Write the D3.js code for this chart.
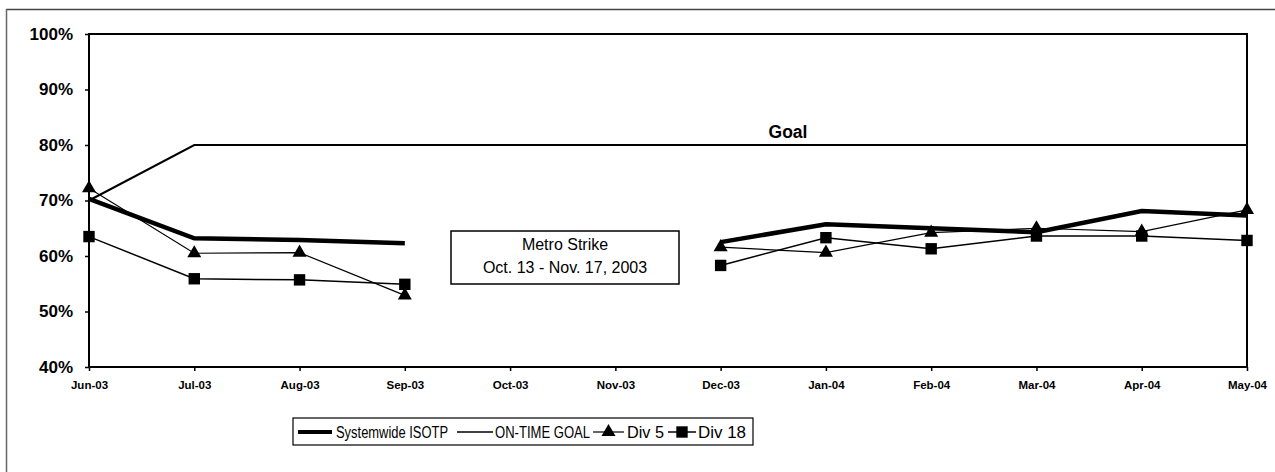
<!DOCTYPE html>
<html>
<head>
<meta charset="utf-8">
<script src="https://cdn.jsdelivr.net/npm/d3@7"></script>
<style>
  body { margin: 0; background: #fff; }
  svg { display: block; font-family: Arial, "Liberation Sans", sans-serif; }
</style>
</head>
<body>
<div id="mainDiv"></div>
<script>
'use strict';

// categories (months)
var months = ['Jun-03', 'Jul-03', 'Aug-03', 'Sep-03', 'Oct-03', 'Nov-03',
              'Dec-03', 'Jan-04', 'Feb-04', 'Mar-04', 'Apr-04', 'May-04'];

// series values (% on time); null = strike months
var systemwide = [70.3, 63.2, 62.9, 62.3, null, null, 62.5, 65.7, 65.0, 64.3, 68.1, 67.3];
var onTimeGoal = [70, 80, 80, 80, 80, 80, 80, 80, 80, 80, 80, 80];
var div5       = [72.2, 60.5, 60.6, 52.9, null, null, 61.6, 60.6, 64.2, 65.0, 64.4, 68.3];
var div18      = [63.5, 55.9, 55.7, 54.9, null, null, 58.3, 63.3, 61.3, 63.6, 63.6, 62.8];

// y tick labels
var yTicks = [40, 50, 60, 70, 80, 90, 100];

var legendKeys = ['Systemwide ISOTP', 'ON-TIME GOAL', 'Div 5', 'Div 18'];

var chart = {};
chart.W = 1275;
chart.H = 472;
chart.plot = {left: 89, top: 34, right: 1247, bottom: 367};

chart.run = function()
{
    var svg = d3.select('#mainDiv').append('svg')
        .attr('width', chart.W)
        .attr('height', chart.H);

    var p = chart.plot;

    // outer frame remnants (scanned page)
    svg.append('line')
        .attr('x1', 6).attr('x2', chart.W).attr('y1', 9.5).attr('y2', 9.5)
        .attr('stroke', '#444').attr('stroke-width', 1.5);
    svg.append('line')
        .attr('x1', 6.5).attr('x2', 6.5).attr('y1', 9).attr('y2', chart.H)
        .attr('stroke', '#666').attr('stroke-width', 1.5);

    var x = d3.scalePoint().domain(months).range([p.left, p.right]);
    var y = d3.scaleLinear().domain([40, 100]).range([p.bottom, p.top]);

    // plot area border
    svg.append('rect')
        .attr('x', p.left).attr('y', p.top)
        .attr('width', p.right - p.left).attr('height', p.bottom - p.top)
        .attr('fill', 'none').attr('stroke', '#000').attr('stroke-width', 2);

    // y axis
    var yAxis = svg.append('g')
        .attr('transform', 'translate(' + p.left + ',0)')
        .call(d3.axisLeft(y).tickValues(yTicks).tickSize(4).tickPadding(12)
            .tickFormat(function(d){ return d + '%'; }));
    yAxis.select('.domain').remove();
    yAxis.selectAll('line').attr('stroke', '#000').attr('stroke-width', 1.5);
    yAxis.selectAll('text')
        .style('font-size', '17px').style('font-weight', 'bold')
        .attr('fill', '#000');

    // x axis
    var xAxis = svg.append('g')
        .attr('transform', 'translate(0,' + p.bottom + ')')
        .call(d3.axisBottom(x).tickSize(4).tickPadding(10));
    xAxis.select('.domain').remove();
    xAxis.selectAll('line').attr('stroke', '#000').attr('stroke-width', 1.5);
    xAxis.selectAll('text')
        .style('font-size', '11.5px').style('font-weight', 'bold')
        .attr('fill', '#000');

    function rows(vals)
    {
        return months.map(function(m, i){ return {m: m, v: vals[i]}; });
    }

    var line = d3.line()
        .defined(function(d){ return d.v !== null; })
        .x(function(d){ return x(d.m); })
        .y(function(d){ return y(d.v); });

    // goal line
    svg.append('path').datum(rows(onTimeGoal))
        .attr('d', line).attr('fill', 'none')
        .attr('stroke', '#000').attr('stroke-width', 2);

    // div 18
    svg.append('path').datum(rows(div18))
        .attr('d', line).attr('fill', 'none')
        .attr('stroke', '#000').attr('stroke-width', 1.5);

    // div 5
    svg.append('path').datum(rows(div5))
        .attr('d', line).attr('fill', 'none')
        .attr('stroke', '#000').attr('stroke-width', 1.2);

    // systemwide (thick)
    svg.append('path').datum(rows(systemwide))
        .attr('d', line).attr('fill', 'none')
        .attr('stroke', '#000').attr('stroke-width', 4.5);

    var sq = d3.symbol().type(d3.symbolSquare).size(130);
    var tri = d3.symbol().type(d3.symbolTriangle).size(85);

    svg.selectAll('.m18')
        .data(rows(div18).filter(function(d){ return d.v !== null; }))
        .enter().append('path')
        .attr('class', 'm18')
        .attr('d', sq)
        .attr('transform', function(d){ return 'translate(' + x(d.m) + ',' + y(d.v) + ')'; })
        .attr('fill', '#000');

    svg.selectAll('.m5')
        .data(rows(div5).filter(function(d){ return d.v !== null; }))
        .enter().append('path')
        .attr('class', 'm5')
        .attr('d', tri)
        .attr('transform', function(d){ return 'translate(' + x(d.m) + ',' + y(d.v) + ')'; })
        .attr('fill', '#000');

    // goal label
    svg.append('text')
        .attr('x', 788).attr('y', 138)
        .attr('text-anchor', 'middle')
        .style('font-size', '17.5px').style('font-weight', 'bold')
        .text('Goal');

    // strike annotation
    var ann = svg.append('g');
    ann.append('rect')
        .attr('x', 451).attr('y', 231).attr('width', 228).attr('height', 53)
        .attr('fill', '#fff').attr('stroke', '#000').attr('stroke-width', 1.5);
    ann.append('text')
        .attr('x', 565).attr('y', 250).attr('text-anchor', 'middle')
        .style('font-size', '16px')
        .text('Metro Strike');
    ann.append('text')
        .attr('x', 565).attr('y', 273).attr('text-anchor', 'middle')
        .style('font-size', '16px')
        .text('Oct. 13 - Nov. 17, 2003');

    // legend
    var lg = svg.append('g');
    lg.append('rect')
        .attr('x', 293).attr('y', 418).attr('width', 460).attr('height', 27)
        .attr('fill', '#fff').attr('stroke', '#000').attr('stroke-width', 1.2);

    var items = [
        {k: legendKeys[0], x0: 298, x1: 332, w: 4,   mk: null, tx: 336, tw: 112},
        {k: legendKeys[1], x0: 457, x1: 493, w: 1.5, mk: null, tx: 495, tw: 95},
        {k: legendKeys[2], x0: 593, x1: 624, w: 1.2, mk: tri,  tx: 627, tw: 37},
        {k: legendKeys[3], x0: 668, x1: 696, w: 1.5, mk: sq,   tx: 698, tw: 48}
    ];
    var ly = 432;
    items.forEach(function(it)
    {
        lg.append('line')
            .attr('x1', it.x0).attr('x2', it.x1)
            .attr('y1', ly).attr('y2', ly)
            .attr('stroke', '#000').attr('stroke-width', it.w);
        if (it.mk)
        {
            lg.append('path')
                .attr('d', it.mk)
                .attr('transform', 'translate(' + ((it.x0 + it.x1) / 2) + ',' + ly + ')')
                .attr('fill', '#000');
        }
        lg.append('text')
            .attr('x', it.tx).attr('y', ly + 6)
            .attr('textLength', it.tw)
            .attr('lengthAdjust', 'spacingAndGlyphs')
            .style('font-size', '16px')
            .text(it.k);
    });
};

window.onload = chart.run;
</script>
</body>
</html>
